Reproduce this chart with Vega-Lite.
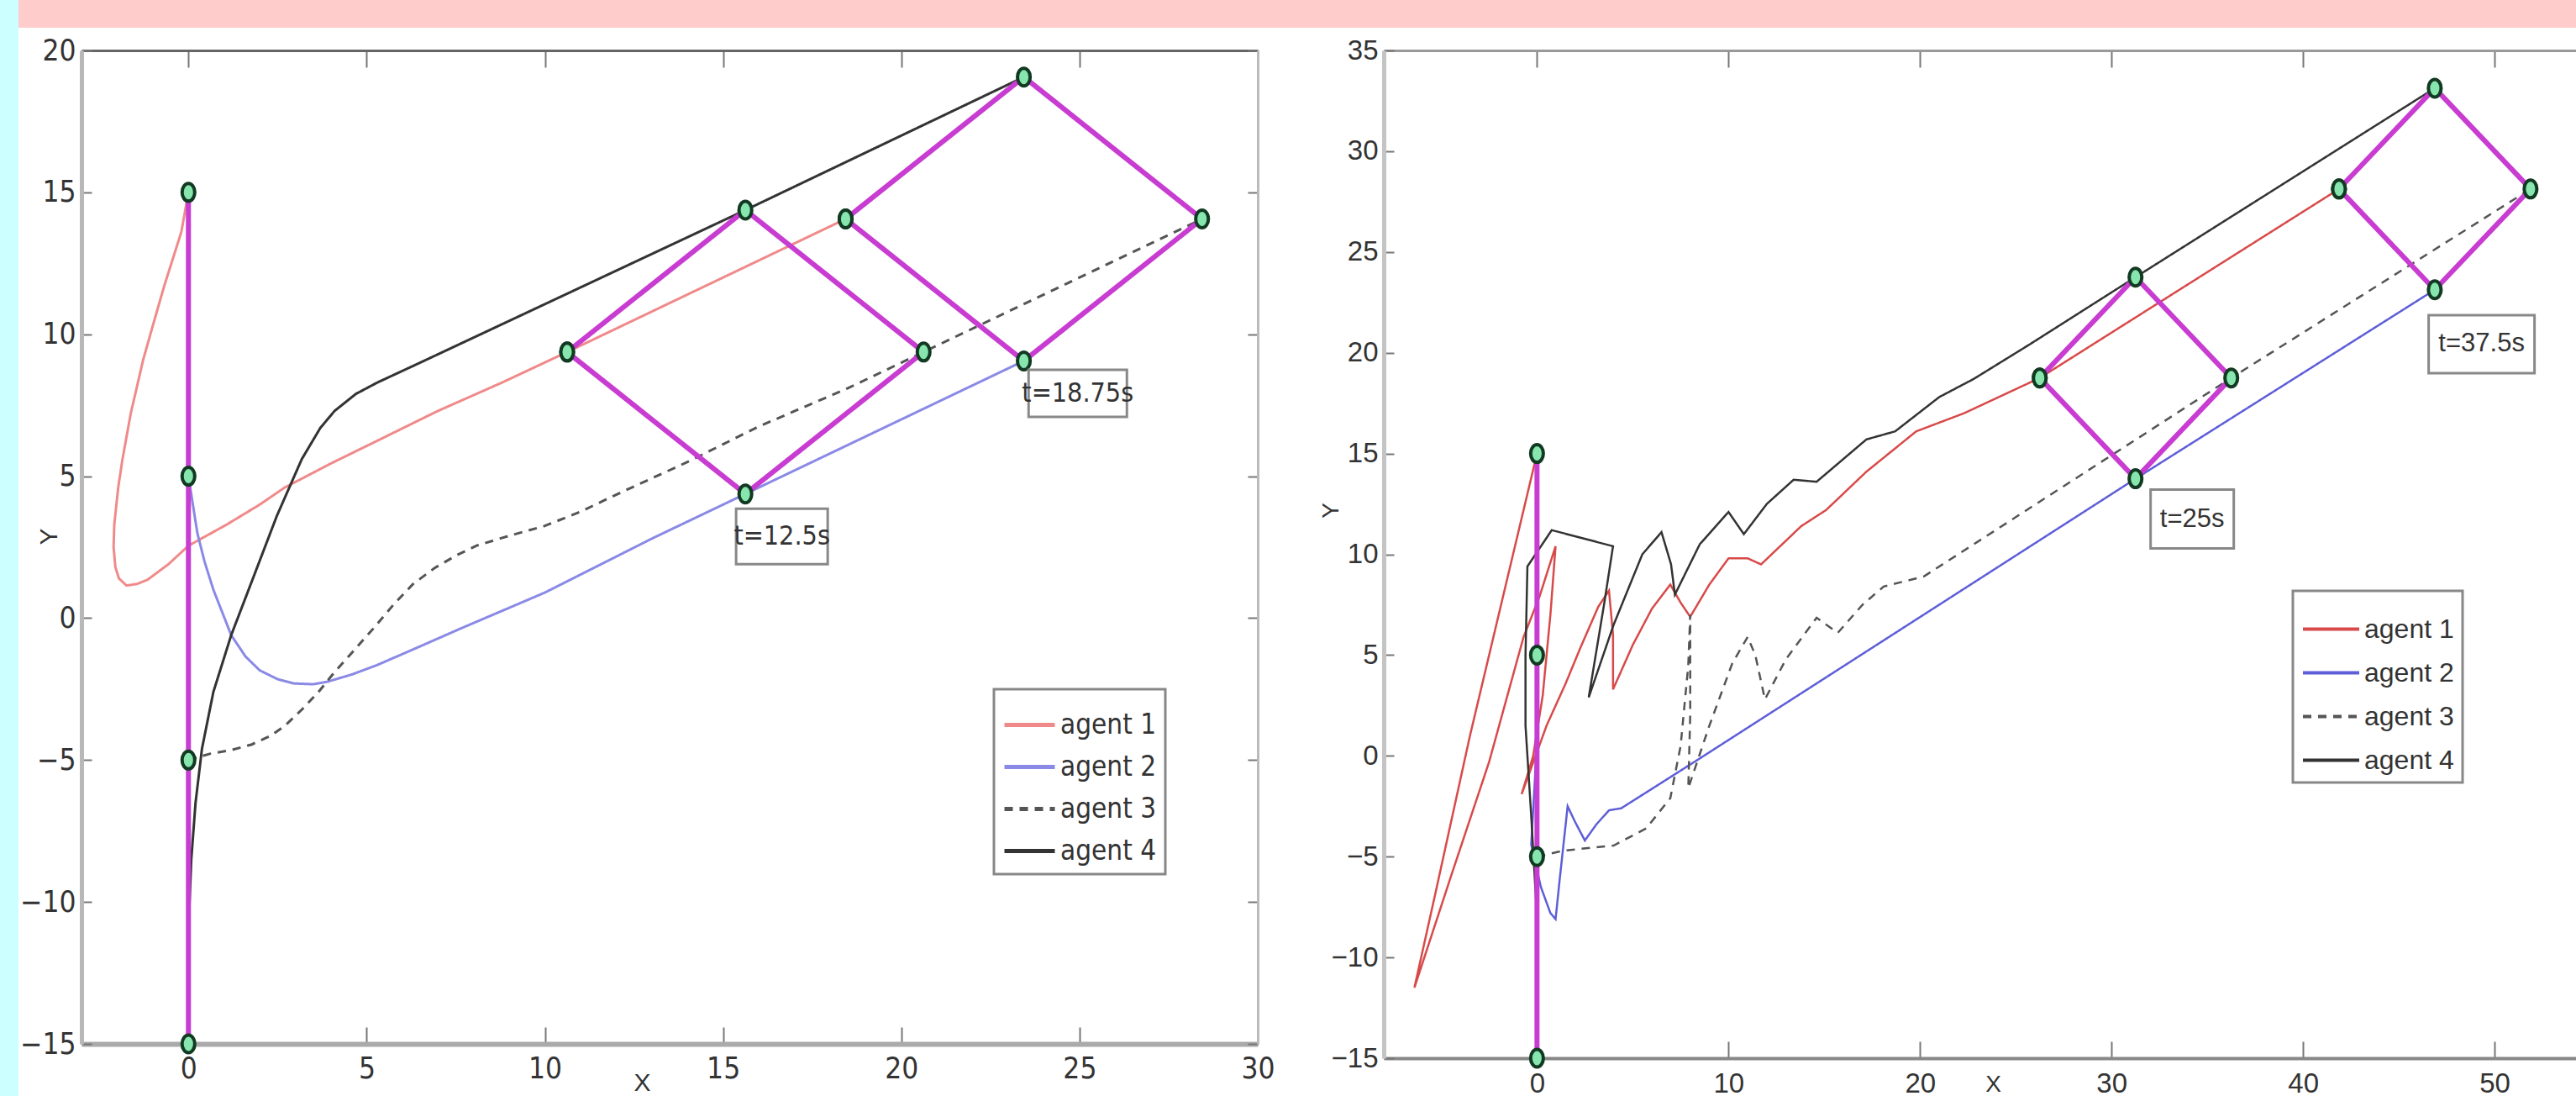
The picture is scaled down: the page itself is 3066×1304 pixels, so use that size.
{
  "$schema": "https://vega.github.io/schema/vega-lite/v6.json",
  "background": "white",
  "padding": 0,
  "spacing": 0,
  "bounds": "flush",
  "config": {
    "view": {"stroke": null},
    "font": "Liberation Sans",
    "axis": {"grid": false, "labelColor": "#333", "titleColor": "#333", "titleFontWeight": "normal", "tickColor": "#777", "tickWidth": 2, "labelOverlap": false, "labelFlush": false}
  },
  "datasets": {
    "trajL": [
      {"a":"agent 1","i":0,"x":0,"y":15},{"a":"agent 1","i":1,"x":-0.2,"y":13.6},{"a":"agent 1","i":2,"x":-0.68,"y":11.7},{"a":"agent 1","i":3,"x":-1.0,"y":10.3},{"a":"agent 1","i":4,"x":-1.27,"y":9.1},{"a":"agent 1","i":5,"x":-1.62,"y":7.2},{"a":"agent 1","i":6,"x":-1.85,"y":5.6},{"a":"agent 1","i":7,"x":-1.97,"y":4.6},{"a":"agent 1","i":8,"x":-2.08,"y":3.3},{"a":"agent 1","i":9,"x":-2.1,"y":2.5},{"a":"agent 1","i":10,"x":-2.05,"y":1.8},{"a":"agent 1","i":11,"x":-1.95,"y":1.4},{"a":"agent 1","i":12,"x":-1.74,"y":1.15},{"a":"agent 1","i":13,"x":-1.45,"y":1.2},{"a":"agent 1","i":14,"x":-1.15,"y":1.35},{"a":"agent 1","i":15,"x":-0.56,"y":1.9},{"a":"agent 1","i":16,"x":0.0,"y":2.55},{"a":"agent 1","i":17,"x":1.08,"y":3.3},{"a":"agent 1","i":18,"x":2.0,"y":4.0},{"a":"agent 1","i":19,"x":2.7,"y":4.6},{"a":"agent 1","i":20,"x":4.0,"y":5.45},{"a":"agent 1","i":21,"x":5.3,"y":6.25},{"a":"agent 1","i":22,"x":7.0,"y":7.3},{"a":"agent 1","i":23,"x":8.8,"y":8.3},{"a":"agent 1","i":24,"x":10.625,"y":9.375},{"a":"agent 1","i":25,"x":18.4375,"y":14.0625},
      {"a":"agent 2","i":0,"x":0,"y":5},{"a":"agent 2","i":1,"x":0.1,"y":4.2},{"a":"agent 2","i":2,"x":0.25,"y":3.0},{"a":"agent 2","i":3,"x":0.45,"y":2.0},{"a":"agent 2","i":4,"x":0.7,"y":1.0},{"a":"agent 2","i":5,"x":0.95,"y":0.2},{"a":"agent 2","i":6,"x":1.2,"y":-0.6},{"a":"agent 2","i":7,"x":1.6,"y":-1.35},{"a":"agent 2","i":8,"x":2.0,"y":-1.84},{"a":"agent 2","i":9,"x":2.5,"y":-2.15},{"a":"agent 2","i":10,"x":2.95,"y":-2.3},{"a":"agent 2","i":11,"x":3.5,"y":-2.33},{"a":"agent 2","i":12,"x":3.9,"y":-2.24},{"a":"agent 2","i":13,"x":4.6,"y":-1.98},{"a":"agent 2","i":14,"x":5.3,"y":-1.65},{"a":"agent 2","i":15,"x":6.4,"y":-1.05},{"a":"agent 2","i":16,"x":7.63,"y":-0.37},{"a":"agent 2","i":17,"x":10.0,"y":0.9},{"a":"agent 2","i":18,"x":13.0,"y":2.8},{"a":"agent 2","i":19,"x":15.625,"y":4.375},{"a":"agent 2","i":20,"x":23.4375,"y":9.0625},
      {"a":"agent 3","i":0,"x":0,"y":-5},{"a":"agent 3","i":1,"x":0.6,"y":-4.78},{"a":"agent 3","i":2,"x":1.2,"y":-4.65},{"a":"agent 3","i":3,"x":1.78,"y":-4.45},{"a":"agent 3","i":4,"x":2.3,"y":-4.15},{"a":"agent 3","i":5,"x":2.7,"y":-3.8},{"a":"agent 3","i":6,"x":3.2,"y":-3.2},{"a":"agent 3","i":7,"x":3.65,"y":-2.6},{"a":"agent 3","i":8,"x":4.1,"y":-1.9},{"a":"agent 3","i":9,"x":4.6,"y":-1.2},{"a":"agent 3","i":10,"x":5.2,"y":-0.35},{"a":"agent 3","i":11,"x":5.77,"y":0.5},{"a":"agent 3","i":12,"x":6.3,"y":1.2},{"a":"agent 3","i":13,"x":6.9,"y":1.76},{"a":"agent 3","i":14,"x":7.5,"y":2.2},{"a":"agent 3","i":15,"x":8.1,"y":2.56},{"a":"agent 3","i":16,"x":9.0,"y":2.9},{"a":"agent 3","i":17,"x":10.0,"y":3.25},{"a":"agent 3","i":18,"x":11.0,"y":3.75},{"a":"agent 3","i":19,"x":12.0,"y":4.35},{"a":"agent 3","i":20,"x":14.0,"y":5.5},{"a":"agent 3","i":21,"x":16.0,"y":6.75},{"a":"agent 3","i":22,"x":18.5,"y":8.1},{"a":"agent 3","i":23,"x":20.625,"y":9.375},{"a":"agent 3","i":24,"x":28.4375,"y":14.0625},
      {"a":"agent 4","i":0,"x":0,"y":-15},{"a":"agent 4","i":1,"x":0,"y":-11},{"a":"agent 4","i":2,"x":0.08,"y":-8.5},{"a":"agent 4","i":3,"x":0.2,"y":-6.5},{"a":"agent 4","i":4,"x":0.38,"y":-4.6},{"a":"agent 4","i":5,"x":0.7,"y":-2.6},{"a":"agent 4","i":6,"x":1.2,"y":-0.6},{"a":"agent 4","i":7,"x":1.78,"y":1.3},{"a":"agent 4","i":8,"x":2.48,"y":3.6},{"a":"agent 4","i":9,"x":3.18,"y":5.6},{"a":"agent 4","i":10,"x":3.7,"y":6.7},{"a":"agent 4","i":11,"x":4.1,"y":7.3},{"a":"agent 4","i":12,"x":4.7,"y":7.9},{"a":"agent 4","i":13,"x":5.3,"y":8.3},{"a":"agent 4","i":14,"x":6.5,"y":9.0},{"a":"agent 4","i":15,"x":15.625,"y":14.375},{"a":"agent 4","i":16,"x":23.4375,"y":19.0625}
    ],
    "trajR": [
      {"a":"agent 1","i":0,"x":0,"y":15},{"a":"agent 1","i":1,"x":-1.5,"y":9},{"a":"agent 1","i":2,"x":-3.5,"y":1},{"a":"agent 1","i":3,"x":-5.3,"y":-6.8},{"a":"agent 1","i":4,"x":-6.4,"y":-11.5},{"a":"agent 1","i":5,"x":-4.5,"y":-6},{"a":"agent 1","i":6,"x":-2.5,"y":-0.3},{"a":"agent 1","i":7,"x":-0.7,"y":5.9},{"a":"agent 1","i":8,"x":0.13,"y":7.9},{"a":"agent 1","i":9,"x":0.97,"y":10.4},{"a":"agent 1","i":10,"x":0.7,"y":7},{"a":"agent 1","i":11,"x":0.3,"y":3},{"a":"agent 1","i":12,"x":-0.2,"y":0},{"a":"agent 1","i":13,"x":-0.8,"y":-1.9},{"a":"agent 1","i":14,"x":0.5,"y":1.5},{"a":"agent 1","i":15,"x":1.5,"y":3.6},{"a":"agent 1","i":16,"x":2.26,"y":5.35},{"a":"agent 1","i":17,"x":3.2,"y":7.4},{"a":"agent 1","i":18,"x":3.76,"y":8.2},{"a":"agent 1","i":19,"x":3.97,"y":6},{"a":"agent 1","i":20,"x":3.97,"y":3.3},{"a":"agent 1","i":21,"x":5.0,"y":5.5},{"a":"agent 1","i":22,"x":6.0,"y":7.3},{"a":"agent 1","i":23,"x":6.96,"y":8.5},{"a":"agent 1","i":24,"x":7.5,"y":7.6},{"a":"agent 1","i":25,"x":8.0,"y":6.9},{"a":"agent 1","i":26,"x":9.0,"y":8.5},{"a":"agent 1","i":27,"x":10.0,"y":9.8},{"a":"agent 1","i":28,"x":11.0,"y":9.8},{"a":"agent 1","i":29,"x":11.7,"y":9.5},{"a":"agent 1","i":30,"x":13.8,"y":11.4},{"a":"agent 1","i":31,"x":15.1,"y":12.2},{"a":"agent 1","i":32,"x":17.2,"y":14.1},{"a":"agent 1","i":33,"x":19.8,"y":16.1},{"a":"agent 1","i":34,"x":22.3,"y":17.0},{"a":"agent 1","i":35,"x":26.25,"y":18.75},{"a":"agent 1","i":36,"x":41.875,"y":28.125},
      {"a":"agent 2","i":0,"x":0,"y":5},{"a":"agent 2","i":1,"x":0.05,"y":2},{"a":"agent 2","i":2,"x":-0.1,"y":-1},{"a":"agent 2","i":3,"x":-0.3,"y":-4.4},{"a":"agent 2","i":4,"x":0.2,"y":-6.5},{"a":"agent 2","i":5,"x":0.7,"y":-7.8},{"a":"agent 2","i":6,"x":0.97,"y":-8.1},{"a":"agent 2","i":7,"x":1.2,"y":-6},{"a":"agent 2","i":8,"x":1.6,"y":-2.5},{"a":"agent 2","i":9,"x":2.0,"y":-3.3},{"a":"agent 2","i":10,"x":2.5,"y":-4.2},{"a":"agent 2","i":11,"x":3.1,"y":-3.4},{"a":"agent 2","i":12,"x":3.76,"y":-2.7},{"a":"agent 2","i":13,"x":4.4,"y":-2.6},{"a":"agent 2","i":14,"x":8.3,"y":-0.25},{"a":"agent 2","i":15,"x":31.25,"y":13.75},{"a":"agent 2","i":16,"x":46.875,"y":23.125},
      {"a":"agent 3","i":0,"x":0,"y":-5},{"a":"agent 3","i":1,"x":1.4,"y":-4.7},{"a":"agent 3","i":2,"x":4.0,"y":-4.45},{"a":"agent 3","i":3,"x":5.7,"y":-3.6},{"a":"agent 3","i":4,"x":6.96,"y":-2.1},{"a":"agent 3","i":5,"x":7.5,"y":0.5},{"a":"agent 3","i":6,"x":7.9,"y":4.5},{"a":"agent 3","i":7,"x":8.0,"y":7.0},{"a":"agent 3","i":8,"x":8.0,"y":2.0},{"a":"agent 3","i":9,"x":7.9,"y":-1.6},{"a":"agent 3","i":10,"x":9.0,"y":1.5},{"a":"agent 3","i":11,"x":10.2,"y":4.6},{"a":"agent 3","i":12,"x":11.0,"y":5.9},{"a":"agent 3","i":13,"x":11.4,"y":5.0},{"a":"agent 3","i":14,"x":11.9,"y":2.8},{"a":"agent 3","i":15,"x":13.0,"y":4.8},{"a":"agent 3","i":16,"x":14.6,"y":6.85},{"a":"agent 3","i":17,"x":15.7,"y":6.1},{"a":"agent 3","i":18,"x":17.0,"y":7.5},{"a":"agent 3","i":19,"x":18.1,"y":8.4},{"a":"agent 3","i":20,"x":20.2,"y":8.9},{"a":"agent 3","i":21,"x":36.25,"y":18.75},{"a":"agent 3","i":22,"x":51.875,"y":28.125},
      {"a":"agent 4","i":0,"x":0,"y":-15},{"a":"agent 4","i":1,"x":0,"y":-8},{"a":"agent 4","i":2,"x":-0.3,"y":-3},{"a":"agent 4","i":3,"x":-0.6,"y":1.5},{"a":"agent 4","i":4,"x":-0.6,"y":5},{"a":"agent 4","i":5,"x":-0.5,"y":9.4},{"a":"agent 4","i":6,"x":0.77,"y":11.2},{"a":"agent 4","i":7,"x":3.97,"y":10.4},{"a":"agent 4","i":8,"x":3.5,"y":7.5},{"a":"agent 4","i":9,"x":2.7,"y":2.9},{"a":"agent 4","i":10,"x":4.0,"y":6.5},{"a":"agent 4","i":11,"x":5.5,"y":10.0},{"a":"agent 4","i":12,"x":6.5,"y":11.1},{"a":"agent 4","i":13,"x":7.0,"y":9.5},{"a":"agent 4","i":14,"x":7.2,"y":8.0},{"a":"agent 4","i":15,"x":8.5,"y":10.5},{"a":"agent 4","i":16,"x":10.0,"y":12.1},{"a":"agent 4","i":17,"x":10.8,"y":11.0},{"a":"agent 4","i":18,"x":12.0,"y":12.5},{"a":"agent 4","i":19,"x":13.4,"y":13.7},{"a":"agent 4","i":20,"x":14.6,"y":13.6},{"a":"agent 4","i":21,"x":17.2,"y":15.7},{"a":"agent 4","i":22,"x":18.7,"y":16.1},{"a":"agent 4","i":23,"x":21.0,"y":17.8},{"a":"agent 4","i":24,"x":22.8,"y":18.7},{"a":"agent 4","i":25,"x":25.7,"y":20.4},{"a":"agent 4","i":26,"x":31.25,"y":23.75},{"a":"agent 4","i":27,"x":46.875,"y":33.125}
    ],
    "formL": [
      {"g":"L0","i":0,"x":0,"y":15},{"g":"L0","i":1,"x":0,"y":5},{"g":"L0","i":2,"x":0,"y":-5},{"g":"L0","i":3,"x":0,"y":-15},
      {"g":"L1","i":0,"x":10.625,"y":9.375},{"g":"L1","i":1,"x":15.625,"y":14.375},{"g":"L1","i":2,"x":20.625,"y":9.375},{"g":"L1","i":3,"x":15.625,"y":4.375},{"g":"L1","i":4,"x":10.625,"y":9.375},
      {"g":"L2","i":0,"x":18.4375,"y":14.0625},{"g":"L2","i":1,"x":23.4375,"y":19.0625},{"g":"L2","i":2,"x":28.4375,"y":14.0625},{"g":"L2","i":3,"x":23.4375,"y":9.0625},{"g":"L2","i":4,"x":18.4375,"y":14.0625}
    ],
    "formR": [
      {"g":"R0","i":0,"x":0,"y":15},{"g":"R0","i":1,"x":0,"y":5},{"g":"R0","i":2,"x":0,"y":-5},{"g":"R0","i":3,"x":0,"y":-15},
      {"g":"R1","i":0,"x":26.25,"y":18.75},{"g":"R1","i":1,"x":31.25,"y":23.75},{"g":"R1","i":2,"x":36.25,"y":18.75},{"g":"R1","i":3,"x":31.25,"y":13.75},{"g":"R1","i":4,"x":26.25,"y":18.75},
      {"g":"R2","i":0,"x":41.875,"y":28.125},{"g":"R2","i":1,"x":46.875,"y":33.125},{"g":"R2","i":2,"x":51.875,"y":28.125},{"g":"R2","i":3,"x":46.875,"y":23.125},{"g":"R2","i":4,"x":41.875,"y":28.125}
    ],
    "labL": [{"t":"t=12.5s","x":16.65,"y":2.88},{"t":"t=18.75s","x":24.95,"y":7.92}],
    "labR": [{"t":"t=25s","x":34.21,"y":11.75},{"t":"t=37.5s","x":49.32,"y":20.43}]
  },
  "hconcat": [
    {"width": 22, "height": 1304, "data": {"values": []}, "mark": "point", "encoding": {}, "view": {"fill": "#ccffff", "stroke": null}},
    {
      "spacing": 27,
      "bounds": "flush",
      "vconcat": [
        {"width": 3044, "height": 33, "data": {"values": []}, "mark": "point", "encoding": {}, "view": {"fill": "#ffcccc", "stroke": null}},
        {
          "spacing": 0,
          "bounds": "flush",
          "resolve": {"scale": {"x": "independent", "y": "independent", "color": "independent", "strokeDash": "independent"}, "legend": {"color": "independent", "strokeDash": "independent"}},
          "hconcat": [
            {"width": 75, "height": 10, "data": {"values": []}, "mark": "point", "encoding": {}},
            {
              "width": 1400, "height": 1182,
              "resolve": {"axis": {"x": "independent", "y": "independent"}},
              "layer": [
                {
                  "data": {"name": "trajL"},
                  "mark": {"type": "line", "strokeWidth": 3},
                  "encoding": {
                    "x": {"field": "x", "type": "quantitative", "scale": {"domain": [-3, 30], "nice": false, "zero": false},
                      "axis": {"orient": "bottom", "values": [0,5,10,15,20,25,30], "tickSize": -20, "domainColor": "#aaaaaa", "domainWidth": 6, "labelFont": "Liberation Sans Narrow, DejaVu Sans Condensed, Liberation Sans, sans-serif", "labelFontSize": 35, "labelPadding": 32, "title": "X", "titleFont": "Liberation Sans Narrow, Liberation Sans, sans-serif", "titleFontSize": 30, "titleX": 667, "titleY": 61, "titleBaseline": "bottom", "titleAlign": "center"}},
                    "y": {"field": "y", "type": "quantitative", "scale": {"domain": [-15, 20], "nice": false, "zero": false},
                      "axis": {"orient": "left", "values": [-15,-10,-5,0,5,10,15,20], "tickSize": -12, "domainColor": "#b8b8b8", "domainWidth": 5, "labelFont": "Liberation Sans Narrow, DejaVu Sans Condensed, Liberation Sans, sans-serif", "labelFontSize": 35, "labelPadding": 19, "title": "Y", "titleFont": "Liberation Sans Narrow, Liberation Sans, sans-serif", "titleFontSize": 30, "titleX": -39, "titleY": 578, "titleAlign": "center", "titleBaseline": "middle"}},
                    "color": {"field": "a", "type": "nominal", "scale": {"domain": ["agent 1","agent 2","agent 3","agent 4"], "range": ["#f08a8a","#8a8ae6","#555555","#333333"]},
                      "legend": {"orient": "none", "legendX": 1086, "legendY": 760, "title": null, "fillColor": "white", "strokeColor": "#888888", "padding": 10, "symbolType": "stroke", "symbolSize": 3600, "symbolStrokeWidth": 5, "labelFont": "Liberation Sans Narrow, DejaVu Sans Condensed, Liberation Sans, sans-serif", "labelFontSize": 33, "labelColor": "#333", "rowPadding": -15, "labelOffset": 4, "encode": {"legend": {"update": {"strokeWidth": {"value": 3}}}}}},
                    "strokeDash": {"field": "a", "type": "nominal", "scale": {"domain": ["agent 1","agent 2","agent 3","agent 4"], "range": [[1,0],[1,0],[10,8],[1,0]]},
                      "legend": {"orient": "none", "legendX": 1086, "legendY": 760, "title": null, "fillColor": "white", "strokeColor": "#888888", "padding": 10, "symbolType": "stroke", "symbolSize": 3600, "symbolStrokeWidth": 5, "labelFont": "Liberation Sans Narrow, DejaVu Sans Condensed, Liberation Sans, sans-serif", "labelFontSize": 33, "labelColor": "#333", "rowPadding": -15, "labelOffset": 4, "encode": {"legend": {"update": {"strokeWidth": {"value": 3}}}}}},
                    "order": {"field": "i", "type": "quantitative"}
                  }
                },
                {
                  "data": {"name": "formL"},
                  "mark": {"type": "line", "color": "#c83cd2", "strokeWidth": 6},
                  "encoding": {
                    "x": {"field": "x", "type": "quantitative", "axis": {"orient": "top", "values": [0,5,10,15,20,25,30], "labels": false, "tickSize": -20, "domainColor": "#666666", "domainWidth": 3, "title": null}},
                    "y": {"field": "y", "type": "quantitative", "axis": {"orient": "right", "values": [-15,-10,-5,0,5,10,15,20], "labels": false, "tickSize": -12, "domainColor": "#bbbbbb", "domainWidth": 3, "title": null}},
                    "detail": {"field": "g"},
                    "order": {"field": "i", "type": "quantitative"}
                  }
                },
                {
                  "data": {"name": "formL"},
                  "mark": {"type": "point", "shape": "M0,-1A0.72,1 0 1,1 0,1A0.72,1 0 1,1 0,-1Z", "size": 441, "filled": true, "fill": "#86e6ae", "stroke": "#123a22", "strokeWidth": 4, "opacity": 1},
                  "encoding": {"x": {"field": "x", "type": "quantitative", "axis": null}, "y": {"field": "y", "type": "quantitative", "axis": null}}
                },
                {
                  "data": {"name": "labL"},
                  "transform": [{"filter": "datum.t == 't=12.5s'"}],
                  "mark": {"type": "rect", "width": 109, "height": 66, "fill": "white", "stroke": "#888888", "strokeWidth": 3},
                  "encoding": {"x": {"field": "x", "type": "quantitative", "axis": null}, "y": {"field": "y", "type": "quantitative", "axis": null}}
                },
                {
                  "data": {"name": "labL"},
                  "transform": [{"filter": "datum.t == 't=18.75s'"}],
                  "mark": {"type": "rect", "width": 117, "height": 56, "fill": "white", "stroke": "#888888", "strokeWidth": 3},
                  "encoding": {"x": {"field": "x", "type": "quantitative", "axis": null}, "y": {"field": "y", "type": "quantitative", "axis": null}}
                },
                {
                  "data": {"name": "labL"},
                  "mark": {"type": "text", "font": "Liberation Sans Narrow, DejaVu Sans Condensed, Liberation Sans, sans-serif", "fontSize": 32, "color": "#333333", "align": "center", "baseline": "middle"},
                  "encoding": {"x": {"field": "x", "type": "quantitative", "axis": null}, "y": {"field": "y", "type": "quantitative", "axis": null}, "text": {"field": "t"}}
                }
              ]
            },
            {"width": 150, "height": 10, "data": {"values": []}, "mark": "point", "encoding": {}},
            {
              "width": 1419, "height": 1199,
              "resolve": {"axis": {"x": "independent", "y": "independent"}},
              "layer": [
                {
                  "data": {"name": "trajR"},
                  "mark": {"type": "line", "strokeWidth": 2.5},
                  "encoding": {
                    "x": {"field": "x", "type": "quantitative", "scale": {"domain": [-8, 54.25], "nice": false, "zero": false},
                      "axis": {"orient": "bottom", "values": [0,10,20,30,40,50], "tickSize": -20, "domainColor": "#888888", "domainWidth": 4, "labelFont": "Liberation Sans, sans-serif", "labelFontSize": 33, "labelPadding": 34, "title": "X", "titleFontSize": 28, "titleX": 725, "titleY": 45, "titleBaseline": "bottom", "titleAlign": "center"}},
                    "y": {"field": "y", "type": "quantitative", "scale": {"domain": [-15, 35], "nice": false, "zero": false},
                      "axis": {"orient": "left", "values": [-15,-10,-5,0,5,10,15,20,25,30,35], "tickSize": -12, "domainColor": "#c4c4c4", "domainWidth": 5, "labelFont": "Liberation Sans, sans-serif", "labelFontSize": 33, "labelPadding": 19, "title": "Y", "titleFontSize": 28, "titleX": -63, "titleY": 547, "titleAlign": "center", "titleBaseline": "middle"}},
                    "color": {"field": "a", "type": "nominal", "scale": {"domain": ["agent 1","agent 2","agent 3","agent 4"], "range": ["#d84a4a","#5e5ed8","#555555","#333333"]},
                      "legend": {"orient": "none", "legendX": 1082, "legendY": 643, "title": null, "fillColor": "white", "strokeColor": "#888888", "padding": 10, "symbolType": "stroke", "symbolSize": 4489, "symbolStrokeWidth": 4, "labelFont": "Liberation Sans, sans-serif", "labelFontSize": 32, "labelColor": "#333", "rowPadding": -17, "labelOffset": 4, "encode": {"legend": {"update": {"strokeWidth": {"value": 3}}}}}},
                    "strokeDash": {"field": "a", "type": "nominal", "scale": {"domain": ["agent 1","agent 2","agent 3","agent 4"], "range": [[1,0],[1,0],[10,8],[1,0]]},
                      "legend": {"orient": "none", "legendX": 1082, "legendY": 643, "title": null, "fillColor": "white", "strokeColor": "#888888", "padding": 10, "symbolType": "stroke", "symbolSize": 4489, "symbolStrokeWidth": 4, "labelFont": "Liberation Sans, sans-serif", "labelFontSize": 32, "labelColor": "#333", "rowPadding": -17, "labelOffset": 4, "encode": {"legend": {"update": {"strokeWidth": {"value": 3}}}}}},
                    "order": {"field": "i", "type": "quantitative"}
                  }
                },
                {
                  "data": {"name": "formR"},
                  "mark": {"type": "line", "color": "#c83cd2", "strokeWidth": 6},
                  "encoding": {
                    "x": {"field": "x", "type": "quantitative", "axis": {"orient": "top", "values": [0,10,20,30,40,50], "labels": false, "tickSize": -20, "domainColor": "#999999", "domainWidth": 3, "title": null}},
                    "y": {"field": "y", "type": "quantitative", "axis": null},
                    "detail": {"field": "g"},
                    "order": {"field": "i", "type": "quantitative"}
                  }
                },
                {
                  "data": {"name": "formR"},
                  "mark": {"type": "point", "shape": "M0,-1A0.72,1 0 1,1 0,1A0.72,1 0 1,1 0,-1Z", "size": 441, "filled": true, "fill": "#86e6ae", "stroke": "#123a22", "strokeWidth": 4, "opacity": 1},
                  "encoding": {"x": {"field": "x", "type": "quantitative", "axis": null}, "y": {"field": "y", "type": "quantitative", "axis": null}}
                },
                {
                  "data": {"name": "labR"},
                  "transform": [{"filter": "datum.t == 't=25s'"}],
                  "mark": {"type": "rect", "width": 99, "height": 70, "fill": "white", "stroke": "#888888", "strokeWidth": 3},
                  "encoding": {"x": {"field": "x", "type": "quantitative", "axis": null}, "y": {"field": "y", "type": "quantitative", "axis": null}}
                },
                {
                  "data": {"name": "labR"},
                  "transform": [{"filter": "datum.t == 't=37.5s'"}],
                  "mark": {"type": "rect", "width": 126, "height": 69, "fill": "white", "stroke": "#888888", "strokeWidth": 3},
                  "encoding": {"x": {"field": "x", "type": "quantitative", "axis": null}, "y": {"field": "y", "type": "quantitative", "axis": null}}
                },
                {
                  "data": {"name": "labR"},
                  "mark": {"type": "text", "font": "Liberation Sans, sans-serif", "fontSize": 31, "color": "#333333", "align": "center", "baseline": "middle"},
                  "encoding": {"x": {"field": "x", "type": "quantitative", "axis": null}, "y": {"field": "y", "type": "quantitative", "axis": null}, "text": {"field": "t"}}
                }
              ]
            }
          ]
        }
      ]
    }
  ]
}
